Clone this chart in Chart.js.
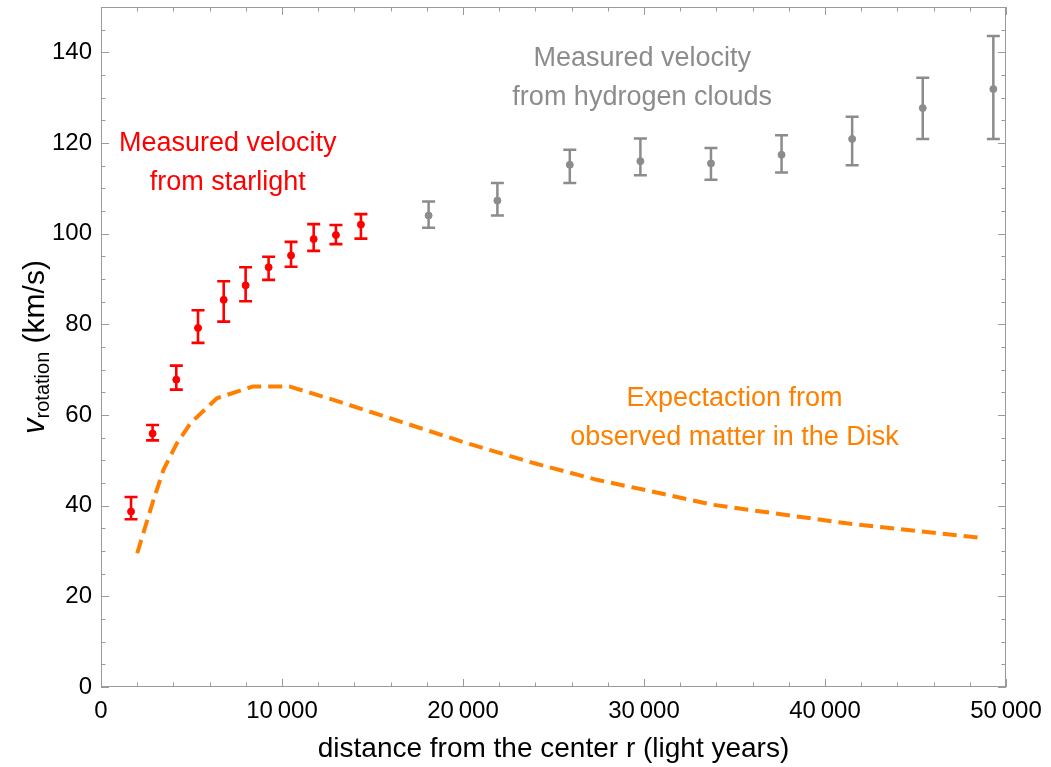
<!DOCTYPE html>
<html>
<head>
<meta charset="utf-8">
<script src="https://cdn.jsdelivr.net/npm/chart.js@4"></script>
<style>
  body { margin: 0; background: #fff; }
  canvas { display: block; }
</style>
</head>
<body>
<canvas id="chart" width="1051" height="767"></canvas>
<script>
// measured from starlight (red)
const starR  = [1660, 2850, 4160, 5360, 6780, 7990, 9260, 10500, 11750, 12980, 14360];
const starV  = [38.7, 55.9, 67.8, 79.2, 85.4, 88.6, 92.6, 95.2, 98.8, 99.7, 102.0];
const starLo = [37.0, 54.4, 65.6, 75.9, 80.6, 85.1, 89.8, 92.7, 96.2, 97.7, 98.9];
const starHi = [41.9, 57.8, 70.9, 83.1, 89.5, 92.6, 94.9, 98.2, 102.1, 101.9, 104.3];

// measured from hydrogen clouds (gray)
const gasR  = [18100, 21900, 25900, 29800, 33700, 37600, 41500, 45400, 49300];
const gasV  = [104.0, 107.3, 115.2, 116.0, 115.5, 117.4, 120.9, 127.7, 131.9];
const gasLo = [101.3, 104.0, 111.2, 112.9, 111.9, 113.5, 115.1, 120.9, 120.9];
const gasHi = [107.1, 111.2, 118.5, 121.0, 118.9, 121.7, 125.8, 134.4, 143.6];

// expectation from visible disk matter (orange dashed)
const diskR = [2000, 2900, 3450, 4200, 4950, 6400, 8400, 10400, 12800, 16500, 20200, 23900, 27400, 30000, 33800, 41200, 48800];
const diskV = [29.5, 41.3, 47.9, 53.8, 58.2, 63.7, 66.3, 66.3, 63.4, 58.6, 53.8, 49.4, 45.7, 43.5, 40.2, 36.1, 32.8];

const xTicks = [0, 10000, 20000, 30000, 40000, 50000];
const yTicks = [0, 20, 40, 60, 80, 100, 120, 140];

const RED = '#ff0000';
const GRAY = '#8c8c8c';
const ORANGE = '#ff8000';
const FONT = "'Liberation Sans', Arial, sans-serif";

function pts(xs, ys) {
  return xs.map((x, i) => ({ x: x, y: ys[i] }));
}

function fmt(v) {
  if (v < 10000) return String(v);
  const s = String(v);
  return s.slice(0, s.length - 3) + '\u2009' + s.slice(-3);
}

// error bars, frame, inward ticks, titles and labels
const extras = {
  id: 'extras',
  beforeDatasetsDraw(chart) {
    const ctx = chart.ctx;
    const xs = chart.scales.x, ys = chart.scales.y;
    const bars = (r, lo, hi, color, lw) => {
      ctx.save();
      ctx.strokeStyle = color;
      ctx.lineWidth = lw;
      for (let i = 0; i < r.length; i++) {
        const px = xs.getPixelForValue(r[i]);
        const top = ys.getPixelForValue(hi[i]);
        const bot = ys.getPixelForValue(lo[i]);
        ctx.beginPath();
        ctx.moveTo(px, top); ctx.lineTo(px, bot);
        ctx.moveTo(px - 6.5, top); ctx.lineTo(px + 6.5, top);
        ctx.moveTo(px - 6.5, bot); ctx.lineTo(px + 6.5, bot);
        ctx.stroke();
      }
      ctx.restore();
    };
    bars(starR, starLo, starHi, RED, 2.6);
    bars(gasR, gasLo, gasHi, GRAY, 2.5);
  },
  afterDraw(chart) {
    const ctx = chart.ctx;
    const a = chart.chartArea;
    const xs = chart.scales.x, ys = chart.scales.y;
    ctx.save();
    // frame
    ctx.strokeStyle = '#9a9a9a';
    ctx.lineWidth = 1;
    ctx.strokeRect(a.left + 0.5, a.top + 0.5, a.right - a.left - 1, a.bottom - a.top - 1);
    // inward ticks
    ctx.beginPath();
    for (let v = 0; v <= 50000; v += 2000) {
      const px = Math.round(xs.getPixelForValue(v)) + 0.5;
      const len = v % 10000 === 0 ? 8 : 4.5;
      ctx.moveTo(px, a.bottom); ctx.lineTo(px, a.bottom - len);
      ctx.moveTo(px, a.top); ctx.lineTo(px, a.top + len);
    }
    for (let v = 0; v <= 150; v += 5) {
      const py = Math.round(ys.getPixelForValue(v)) + 0.5;
      const len = v % 20 === 0 ? 8 : 4.5;
      ctx.moveTo(a.left, py); ctx.lineTo(a.left + len, py);
      ctx.moveTo(a.right, py); ctx.lineTo(a.right - len, py);
    }
    ctx.stroke();

    // annotations
    const note = (lines, color, x, y0, y1) => {
      ctx.fillStyle = color;
      ctx.font = '27px ' + FONT;
      ctx.textAlign = 'center';
      ctx.textBaseline = 'middle';
      ctx.fillText(lines[0], xs.getPixelForValue(x), ys.getPixelForValue(y0));
      ctx.fillText(lines[1], xs.getPixelForValue(x), ys.getPixelForValue(y1));
    };
    note(['Measured velocity', 'from starlight'], RED, 7000, 119.9, 111.3);
    note(['Measured velocity', 'from hydrogen clouds'], GRAY, 29900, 138.7, 130.1);
    note(['Expectaction from', 'observed matter in the Disk'], ORANGE, 35000, 63.6, 55.0);

    // x title
    ctx.fillStyle = '#000';
    ctx.font = '28px ' + FONT;
    ctx.textAlign = 'center';
    ctx.textBaseline = 'middle';
    ctx.fillText('distance from the center r (light years)', (a.left + a.right) / 2, 749);

    // y title with subscript
    ctx.translate(34, (a.top + a.bottom) / 2);
    ctx.rotate(-Math.PI / 2);
    ctx.textAlign = 'left';
    ctx.textBaseline = 'alphabetic';
    const fMain = '30px ' + FONT, fIt = 'italic 31px ' + FONT, fSub = '20px ' + FONT;
    ctx.font = fIt; const w1 = ctx.measureText('v').width;
    ctx.font = fSub; const w2 = ctx.measureText('rotation').width;
    ctx.font = fMain; const w3 = ctx.measureText(' (km/s)').width;
    let x0 = -(w1 + w2 + w3) / 2;
    const base = 10;
    ctx.font = fIt; ctx.fillText('v', x0, base); x0 += w1;
    ctx.font = fSub; ctx.fillText('rotation', x0, base + 5); x0 += w2;
    ctx.font = fMain; ctx.fillText(' (km/s)', x0, base);
    ctx.restore();
  }
};

new Chart(document.getElementById('chart'), {
  type: 'scatter',
  data: {
    datasets: [
      {
        data: pts(starR, starV),
        backgroundColor: RED, borderColor: RED,
        pointRadius: 3.5, pointHoverRadius: 3.5, showLine: false
      },
      {
        data: pts(gasR, gasV),
        backgroundColor: GRAY, borderColor: GRAY,
        pointRadius: 3.5, pointHoverRadius: 3.5, showLine: false
      },
      {
        data: pts(diskR, diskV),
        borderColor: ORANGE, backgroundColor: ORANGE,
        borderWidth: 4, borderDash: [14, 7],
        pointRadius: 0, showLine: true, tension: 0
      }
    ]
  },
  options: {
    responsive: false,
    animation: false,
    layout: { padding: { top: 7, right: 45, left: 0, bottom: 0 } },
    plugins: { legend: { display: false }, tooltip: { enabled: false } },
    scales: {
      x: {
        type: 'linear', min: 0, max: 50000,
        grid: { display: false }, border: { display: false },
        ticks: {
          stepSize: 10000, color: '#000', padding: 2, maxRotation: 0,
          font: { size: 24, family: FONT },
          callback: v => fmt(v)
        },
        afterBuildTicks(s) { s.ticks = xTicks.map(v => ({ value: v })); },
        afterFit(s) { s.height = 80; s.paddingLeft = 0; s.paddingRight = 0; }
      },
      y: {
        type: 'linear', min: 0, max: 150,
        grid: { display: false }, border: { display: false },
        ticks: {
          stepSize: 20, color: '#000', padding: 1,
          font: { size: 24, family: FONT }
        },
        afterBuildTicks(s) { s.ticks = yTicks.map(v => ({ value: v })); },
        afterFit(s) { s.width = 101; s.paddingTop = 0; s.paddingBottom = 0; }
      }
    }
  },
  plugins: [extras]
});
</script>
</body>
</html>
